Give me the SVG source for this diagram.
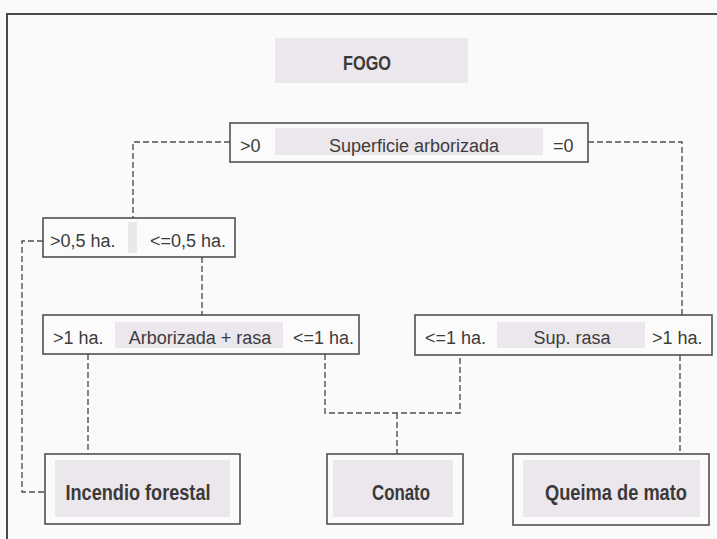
<svg xmlns="http://www.w3.org/2000/svg" width="717" height="539" viewBox="0 0 717 539">
<style>
.bg{fill:#fafafa}
.frame{fill:none;stroke:#4a4a4a;stroke-width:2}
.box{fill:#fbfbfb;stroke:#505050;stroke-width:1.6}
.shade{fill:#ece6ed}
.strip{fill:#e8e8e8}
.t{font-family:"Liberation Sans",Arial,sans-serif;font-size:18px;fill:#3c3c3c}
.b{font-family:"Liberation Sans",Arial,sans-serif;font-weight:bold;font-size:22px;fill:#3a3a3a;text-anchor:middle}
.c{fill:none;stroke:#505050;stroke-width:1.4;stroke-dasharray:6 3}
</style>
<rect class="bg" x="0" y="0" width="717" height="539"/>
<rect class="frame" x="7" y="14" width="720" height="540"/>
<g id="connectors">
<path class="c" d="M230,142 H133 V218"/>
<path class="c" d="M588,142 H682 V315"/>
<path class="c" d="M43,241 H22 V492 H45"/>
<path class="c" d="M202,257 V315"/>
<path class="c" d="M88,354 V454"/>
<path class="c" d="M325,354 V413 H460 V355"/>
<path class="c" d="M397,413 V454"/>
<path class="c" d="M680,355 V454"/>
</g>
<g id="fogo">
<rect class="shade" x="275" y="38" width="193" height="45"/>
<text class="b" x="367" y="70" style="font-size:20px" textLength="48" lengthAdjust="spacingAndGlyphs">FOGO</text>
</g>
<g id="superficie">
<rect class="box" x="230" y="123" width="358" height="39"/>
<rect class="shade" x="275" y="128" width="268" height="27"/>
<text class="t" x="240" y="152">&gt;0</text>
<text class="t" x="414" y="152" text-anchor="middle">Superficie arborizada</text>
<text class="t" x="553" y="152">=0</text>
</g>
<g id="half-ha">
<rect class="box" x="43" y="218" width="192" height="39"/>
<rect class="strip" x="128" y="222" width="9" height="31"/>
<text class="t" x="50" y="247">&gt;0,5 ha.</text>
<text class="t" x="150" y="247">&lt;=0,5 ha.</text>
</g>
<g id="arborizada-rasa">
<rect class="box" x="43" y="315" width="316" height="39"/>
<rect class="shade" x="115" y="322" width="168" height="26"/>
<text class="t" x="53" y="344">&gt;1 ha.</text>
<text class="t" x="200" y="344" text-anchor="middle">Arborizada + rasa</text>
<text class="t" x="293" y="344">&lt;=1 ha.</text>
</g>
<g id="sup-rasa">
<rect class="box" x="415" y="315" width="297" height="40"/>
<rect class="shade" x="497" y="322" width="148" height="26"/>
<text class="t" x="425" y="344">&lt;=1 ha.</text>
<text class="t" x="572" y="344" text-anchor="middle">Sup. rasa</text>
<text class="t" x="652" y="344">&gt;1 ha.</text>
</g>
<g id="incendio">
<rect class="box" x="45" y="454" width="195" height="70"/>
<rect class="shade" x="55" y="460" width="175" height="57"/>
<text class="b" x="138" y="500" textLength="145" lengthAdjust="spacingAndGlyphs">Incendio forestal</text>
</g>
<g id="conato">
<rect class="box" x="327" y="454" width="136" height="70"/>
<rect class="shade" x="333" y="460" width="120" height="57"/>
<text class="b" x="401" y="500" textLength="58" lengthAdjust="spacingAndGlyphs">Conato</text>
</g>
<g id="queima">
<rect class="box" x="513" y="454" width="196" height="71"/>
<rect class="shade" x="523" y="460" width="177" height="57"/>
<text class="b" x="616" y="500" textLength="142" lengthAdjust="spacingAndGlyphs">Queima de mato</text>
</g>
</svg>
